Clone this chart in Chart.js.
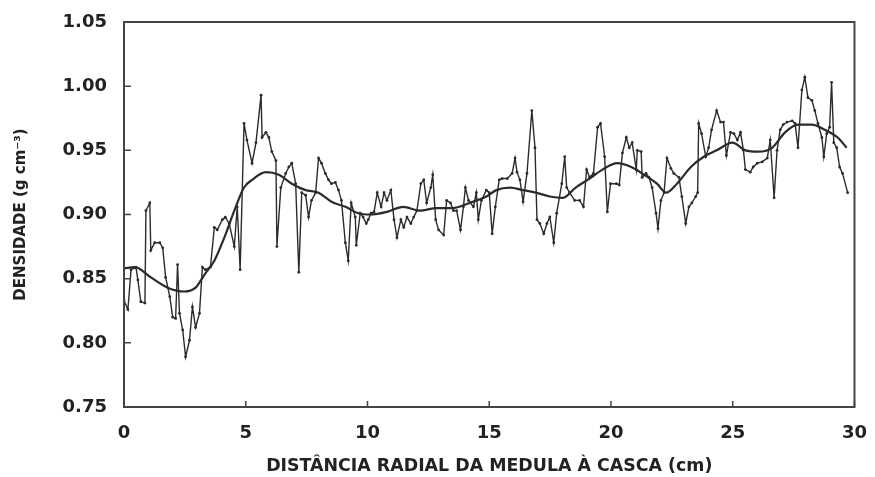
<!DOCTYPE html>
<html>
<head>
<meta charset="utf-8">
<script src="https://cdn.jsdelivr.net/npm/chart.js"></script>
<style>
  body { margin: 0; background: #fff; }
  #wrap { width: 875px; height: 477px; }
</style>
</head>
<body>
<div id="wrap"><canvas id="myChart" width="875" height="477"></canvas></div>
<script>
// distance from pith (cm) and density (g cm-3), measured series
var dist_raw = [0.00, 0.16, 0.29, 0.49, 0.57, 0.69, 0.86, 0.90, 1.06, 1.10, 1.26, 1.47, 1.59, 1.71, 1.88, 2.00, 2.12, 2.20, 2.28, 2.41,
                2.53, 2.69, 2.81, 2.94, 3.10, 3.22, 3.34, 3.55, 3.71, 3.83, 4.04, 4.16, 4.32, 4.53, 4.65, 4.77, 4.93, 5.05, 5.26, 5.42,
                5.63, 5.67, 5.83, 5.95, 6.07, 6.24, 6.28, 6.44, 6.64, 6.77, 6.89, 7.05, 7.18, 7.30, 7.46, 7.58, 7.70, 7.87, 7.99, 8.11,
                8.27, 8.40, 8.52, 8.68, 8.81, 8.93, 9.09, 9.21, 9.33, 9.50, 9.54, 9.70, 9.82, 9.95, 10.03, 10.15, 10.27, 10.40, 10.56, 10.68,
                10.80, 10.96, 11.09, 11.21, 11.37, 11.49, 11.62, 11.78, 11.90, 12.03, 12.19, 12.31, 12.43, 12.60, 12.68, 12.80, 12.92, 13.13, 13.25, 13.41,
                13.53, 13.66, 13.82, 13.94, 14.02, 14.15, 14.35, 14.47, 14.55, 14.68, 14.88, 15.00, 15.12, 15.25, 15.41, 15.53, 15.74, 15.94, 16.06, 16.14,
                16.26, 16.39, 16.55, 16.75, 16.88, 16.96, 17.08, 17.24, 17.37, 17.49, 17.65, 17.77, 17.98, 18.10, 18.18, 18.30, 18.51, 18.71, 18.87, 19.00,
                19.12, 19.28, 19.45, 19.57, 19.74, 19.85, 19.98, 20.22, 20.34, 20.47, 20.63, 20.75, 20.87, 21.04, 21.08, 21.24, 21.28, 21.44, 21.56, 21.69,
                21.85, 21.93, 22.05, 22.18, 22.30, 22.46, 22.58, 22.79, 22.91, 23.07, 23.20, 23.32, 23.48, 23.56, 23.60, 23.72, 23.89, 24.01, 24.13, 24.34,
                24.50, 24.62, 24.74, 24.91, 25.05, 25.19, 25.32, 25.44, 25.52, 25.72, 25.84, 26.01, 26.21, 26.42, 26.54, 26.70, 26.82, 26.95, 27.07, 27.23,
                27.44, 27.56, 27.68, 27.84, 27.96, 28.09, 28.25, 28.37, 28.50, 28.66, 28.74, 28.86, 28.98, 29.06, 29.15, 29.27, 29.39, 29.51, 29.72];
var dens_raw = [0.833, 0.826, 0.857, 0.859, 0.849, 0.832, 0.831, 0.903, 0.909, 0.872, 0.878, 0.878, 0.874, 0.851, 0.836, 0.820, 0.819, 0.861, 0.823, 0.810,
                0.789, 0.802, 0.828, 0.812, 0.823, 0.859, 0.857, 0.859, 0.890, 0.888, 0.896, 0.898, 0.893, 0.875, 0.906, 0.857, 0.971, 0.958, 0.940, 0.956,
                0.993, 0.960, 0.964, 0.960, 0.949, 0.942, 0.875, 0.921, 0.932, 0.937, 0.940, 0.924, 0.855, 0.917, 0.915, 0.898, 0.911, 0.917, 0.944, 0.940,
                0.932, 0.927, 0.924, 0.925, 0.919, 0.911, 0.878, 0.864, 0.909, 0.898, 0.876, 0.901, 0.898, 0.893, 0.896, 0.901, 0.902, 0.917, 0.906, 0.917,
                0.911, 0.919, 0.896, 0.882, 0.896, 0.890, 0.898, 0.893, 0.898, 0.903, 0.924, 0.927, 0.909, 0.921, 0.931, 0.896, 0.888, 0.884, 0.911, 0.909,
                0.903, 0.903, 0.888, 0.906, 0.921, 0.911, 0.906, 0.917, 0.896, 0.911, 0.919, 0.917, 0.885, 0.906, 0.927, 0.928, 0.928, 0.932, 0.944, 0.933,
                0.927, 0.910, 0.932, 0.981, 0.952, 0.896, 0.893, 0.885, 0.893, 0.898, 0.878, 0.901, 0.924, 0.945, 0.921, 0.917, 0.911, 0.911, 0.906, 0.935,
                0.929, 0.932, 0.968, 0.971, 0.945, 0.902, 0.924, 0.924, 0.923, 0.948, 0.960, 0.952, 0.956, 0.935, 0.950, 0.949, 0.929, 0.932, 0.929, 0.921,
                0.901, 0.889, 0.911, 0.917, 0.944, 0.936, 0.932, 0.929, 0.914, 0.893, 0.906, 0.909, 0.914, 0.917, 0.971, 0.963, 0.945, 0.952, 0.966, 0.981,
                0.972, 0.972, 0.946, 0.964, 0.963, 0.958, 0.964, 0.950, 0.935, 0.933, 0.937, 0.940, 0.941, 0.944, 0.958, 0.913, 0.950, 0.966, 0.970, 0.972,
                0.973, 0.971, 0.952, 0.997, 1.007, 0.991, 0.989, 0.981, 0.971, 0.960, 0.945, 0.963, 0.968, 1.003, 0.956, 0.952, 0.937, 0.932, 0.917];

// smoothed trend
var dist_smooth = [0.00, 0.45, 1.10, 1.79, 2.49, 2.94, 3.30, 3.71, 4.12, 4.53, 4.93, 5.26, 5.83, 6.36, 6.89, 7.46, 7.99, 8.52, 9.09, 9.62,
                   10.11, 10.80, 11.46, 12.15, 12.84, 13.49, 14.19, 14.88, 15.29, 15.86, 16.39, 16.92, 17.49, 18.02, 18.55, 19.12, 19.65, 20.26, 20.83, 21.36,
                   21.89, 22.26, 22.71, 23.28, 23.81, 24.34, 24.99, 25.52, 26.05, 26.62, 27.15, 27.68, 28.25, 28.78, 29.31, 29.68];
var dens_smooth = [0.858, 0.859, 0.851, 0.843, 0.840, 0.843, 0.853, 0.864, 0.882, 0.903, 0.921, 0.927, 0.933, 0.931, 0.924, 0.919, 0.917, 0.910, 0.906, 0.901,
                   0.900, 0.902, 0.906, 0.903, 0.905, 0.905, 0.909, 0.914, 0.919, 0.921, 0.919, 0.917, 0.914, 0.913, 0.921, 0.928, 0.935, 0.940, 0.937, 0.931,
                   0.924, 0.917, 0.924, 0.937, 0.945, 0.950, 0.956, 0.950, 0.949, 0.952, 0.964, 0.970, 0.970, 0.966, 0.960, 0.952];

var x_title = "DISTÂNCIA RADIAL DA MEDULA À CASCA (cm)";
var y_title = "DENSIDADE (g cm⁻³)";

function pts(xs, ys){
    var out = [];
    for(var i = 0; i < xs.length; i++){
        out.push({x: xs[i], y: ys[i]});
    }
    return out;
}

var ink = "#2b2b2b";
var tickFont = {family: "DejaVu Sans", weight: "bold", size: 18};

// box frame + inward tick marks
var framePlugin = {
    id: "frame",
    afterDatasetsDraw: function(chart){
        var ctx = chart.ctx;
        var a = chart.chartArea;
        var xs = chart.scales.x, ys = chart.scales.y;
        ctx.save();
        ctx.strokeStyle = "#444";
        ctx.lineWidth = 2;
        ctx.strokeRect(a.left, a.top, a.right - a.left, a.bottom - a.top);
        ctx.lineWidth = 1.5;
        ctx.beginPath();
        xs.ticks.forEach(function(t){
            var px = xs.getPixelForValue(t.value);
            ctx.moveTo(px, a.bottom);
            ctx.lineTo(px, a.bottom - 6);
        });
        ys.ticks.forEach(function(t){
            var py = ys.getPixelForValue(t.value);
            ctx.moveTo(a.left, py);
            ctx.lineTo(a.left + 7, py);
        });
        ctx.stroke();
        ctx.restore();
    }
};

var canvas = document.getElementById("myChart").getContext("2d");
var chart = new Chart(canvas, {
    type: "line",
    data: {
        datasets: [
            {label: "medido",
             data: pts(dist_raw, dens_raw),
             borderColor: ink,
             backgroundColor: ink,
             borderWidth: 1.4,
             pointRadius: 1.4,
             pointBorderWidth: 0,
             tension: 0},
            {label: "tendência",
             data: pts(dist_smooth, dens_smooth),
             borderColor: ink,
             borderWidth: 2.2,
             pointRadius: 0,
             tension: 0.4,
             cubicInterpolationMode: "monotone"}
        ]
    },
    options: {
        responsive: false,
        animation: false,
        layout: {padding: {top: 22, right: 15, bottom: 0, left: 0}},
        plugins: {legend: {display: false}, tooltip: {enabled: false}},
        scales: {
            x: {
                type: "linear",
                min: 0, max: 30,
                grid: {display: false},
                border: {display: false},
                ticks: {stepSize: 5, color: "#222", font: tickFont, padding: 8, maxRotation: 0},
                title: {display: true, text: x_title, color: "#222",
                        font: {family: "DejaVu Sans", weight: "bold", size: 17.4, lineHeight: 1},
                        padding: {top: 0, bottom: 2}},
                afterFit: function(s){ s.height = 70; }
            },
            y: {
                min: 0.75, max: 1.05,
                grid: {display: false},
                border: {display: false},
                ticks: {stepSize: 0.05, color: "#222", font: tickFont, padding: 9,
                        callback: function(v){ return v.toFixed(2); }},
                title: {display: true, text: y_title, color: "#222",
                        font: {family: "DejaVu Sans", weight: "bold", size: 15, lineHeight: 1},
                        padding: {top: 14, bottom: 0}},
                afterFit: function(s){ s.width = 124; }
            }
        }
    },
    plugins: [framePlugin]
});
</script>
</body>
</html>
